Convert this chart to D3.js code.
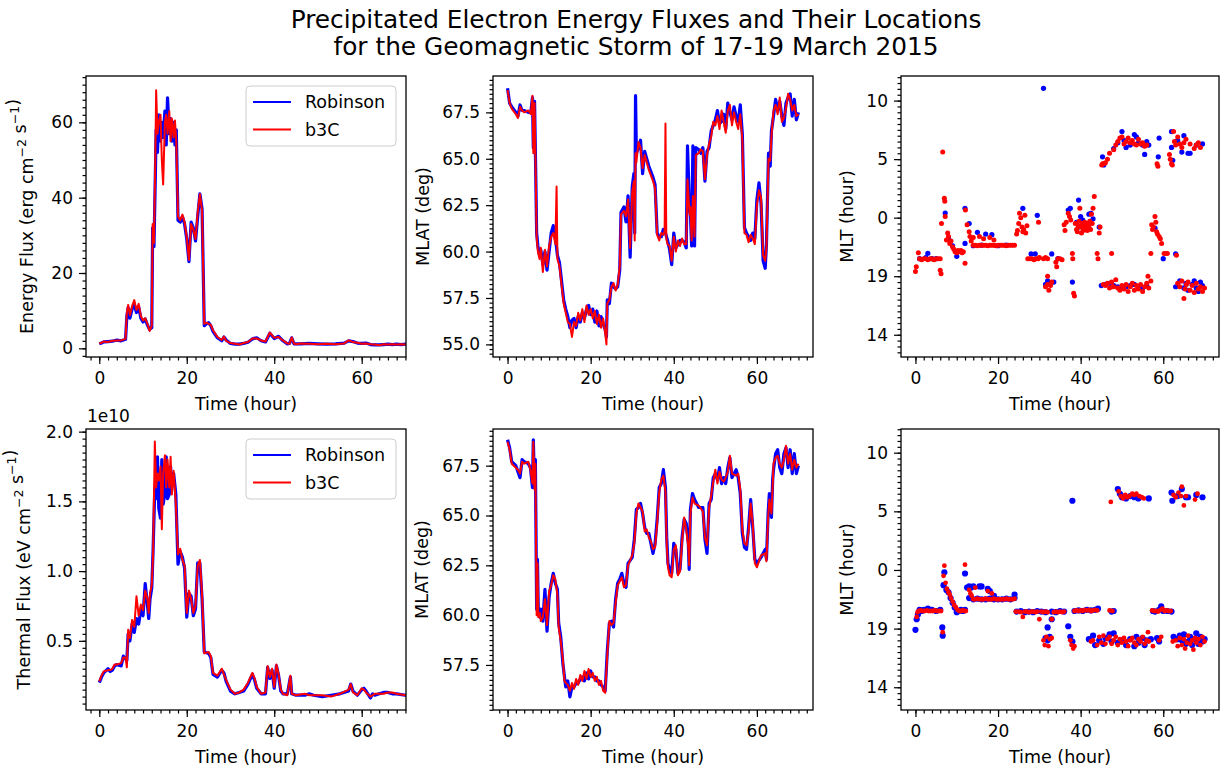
<!DOCTYPE html>
<html>
<head>
<meta charset="utf-8">
<script src="https://cdn.jsdelivr.net/npm/d3@7"></script>
<style>
  body { margin: 0; background: #fff; }
  svg text { font-family: "DejaVu Sans", sans-serif; fill: #000; }
</style>
</head>
<body>
<svg id="fig" width="1220" height="771"></svg>
<script>
// ---- data: [time (hour), value] ----

const seriesNames = ['Robinson', 'b3C'];
const seriesColors = ['#0000ff', '#ff0000'];
const timeTicks = [0, 20, 40, 60];

// energy flux, erg cm^-2 s^-1
const energyFluxRobinson = [[0,1.2],[0.5,1.4],[1,1.7],[2,1.8],[3,1.9],[4,2.2],[5,2.0],[6,2.4],[6.3,8.5],[6.6,10.8],[7,8.0],[7.5,10.5],[8,11.5],[8.5,9.5],[9,11.0],[9.5,8.0],[10,7.0],[10.5,7.8],[11,6.2],[11.5,5.0],[12,5.5],[12.2,32],[12.5,27],[12.8,45],[13,58],[13.3,52],[13.6,62],[14,55],[14.3,60],[14.6,56],[15,63],[15.3,54],[15.6,66.5],[16,57],[16.3,61],[16.6,55],[17,60],[17.3,54],[17.6,58],[18,34],[18.5,33.5],[19,35],[19.5,33],[20,29],[20.5,23],[21,33.5],[21.5,32],[22,28.5],[22.5,35],[23,41],[23.5,37],[24,6],[24.5,6.5],[25,6.8],[25.5,6],[26,4.5],[27,2.8],[28,2.0],[28.5,3.0],[29,2.2],[30,1.3],[31,1.1],[32,1.1],[33,1.3],[34,1.6],[35,2.5],[36,2.8],[37,2.0],[38,1.7],[39,4.0],[40,2.6],[41,3.2],[42,2.0],[43,1.2],[43.5,1.3],[44,2.8],[44.5,1.2],[45,1.2],[46,1.2],[48,1.3],[50,1.2],[52,1.1],[54,1.2],[56,1.4],[57,2.0],[58,1.8],[59,1.4],[60,1.3],[61,1.4],[62,1.0],[63,0.9],[64,0.9],[65,1.0],[66,1.1],[67,1.0],[68,1.1],[69,1.0],[70,1.1],[70.2,1.1]];
const energyFluxB3C = [[0,1.3],[0.5,1.5],[1,1.8],[2,1.7],[3,2.0],[4,2.1],[5,2.1],[6,2.5],[6.3,9.5],[6.6,11.5],[7,8.8],[7.5,11.2],[8,12.8],[8.5,10.2],[9,11.8],[9.5,8.6],[10,7.4],[10.5,8.0],[11,6.5],[11.5,4.6],[12,6.0],[12.2,33],[12.5,28],[12.8,50],[13,68.5],[13.3,57],[13.6,60],[14,62],[14.3,50],[14.6,43.5],[15,60],[15.3,62],[15.6,57],[16,63],[16.3,55],[16.6,61],[17,56],[17.3,60.5],[17.6,55],[18,35],[18.5,34],[19,35.5],[19.5,33.5],[20,29.5],[20.5,23.5],[21,33],[21.5,31.5],[22,29],[22.5,36],[23,41],[23.5,36.5],[24,6.5],[24.5,6.8],[25,6.5],[25.5,6.2],[26,4.8],[27,3.0],[28,2.2],[28.5,3.1],[29,2.0],[30,1.4],[31,1.2],[32,1.0],[33,1.4],[34,1.7],[35,2.6],[36,2.6],[37,2.1],[38,1.8],[39,4.2],[40,2.8],[41,3.0],[42,2.1],[43,1.3],[43.5,1.2],[44,2.9],[44.5,1.3],[45,1.1],[46,1.3],[48,1.2],[50,1.1],[52,1.2],[54,1.1],[56,1.3],[57,2.1],[58,1.7],[59,1.5],[60,1.2],[61,1.3],[62,1.1],[63,1.0],[64,0.8],[65,1.1],[66,1.0],[67,1.1],[68,1.0],[69,1.1],[70,1.0],[70.2,1.0]];

// thermal flux, in units of 1e10 eV cm^-2 s^-1
const thermalFluxRobinson = [[0,0.20],[0.5,0.24],[1,0.27],[2,0.30],[2.5,0.28],[3,0.29],[3.5,0.32],[4,0.33],[5,0.32],[5.5,0.39],[6,0.37],[6.3,0.36],[6.6,0.55],[7,0.50],[7.5,0.62],[8,0.56],[8.5,0.66],[9,0.62],[9.5,0.72],[10,0.68],[10.5,0.91],[11,0.76],[11.3,0.66],[11.6,0.80],[12,0.88],[12.3,1.15],[12.7,1.60],[13,1.52],[13.3,1.82],[13.6,1.45],[14,1.38],[14.3,1.80],[14.6,1.48],[15,1.56],[15.3,1.82],[15.6,1.52],[16,1.55],[16.3,1.75],[16.6,1.62],[17,1.70],[17.5,1.55],[18,1.05],[18.5,1.14],[19,1.10],[19.5,1.02],[20,0.67],[20.5,0.84],[21,0.82],[21.5,0.68],[22,0.73],[22.5,1.06],[23,1.06],[23.5,0.80],[24,0.42],[25,0.41],[25.5,0.38],[26,0.26],[27,0.24],[28,0.29],[28.5,0.27],[29,0.21],[30,0.14],[31,0.12],[32,0.13],[33,0.14],[34,0.19],[35,0.26],[35.5,0.22],[36,0.16],[37,0.12],[38,0.12],[38.5,0.31],[39,0.23],[39.5,0.29],[40,0.16],[40.5,0.32],[41,0.25],[41.5,0.14],[42,0.12],[43,0.12],[43.7,0.24],[44,0.12],[45,0.11],[47,0.11],[48,0.12],[49,0.11],[51,0.10],[53,0.11],[55,0.12],[57,0.14],[57.5,0.19],[58,0.14],[59,0.11],[60,0.15],[60.5,0.16],[61,0.14],[62,0.09],[62.5,0.12],[63,0.11],[64,0.12],[65,0.13],[66,0.13],[67,0.12],[68,0.12],[70,0.11],[70.2,0.11]];
const thermalFluxB3C = [[0,0.21],[0.5,0.25],[1,0.28],[2,0.29],[2.5,0.29],[3,0.30],[3.5,0.33],[4,0.33],[5,0.34],[5.5,0.38],[6,0.38],[6.3,0.31],[6.6,0.58],[7,0.52],[7.5,0.65],[8,0.60],[8.5,0.82],[9,0.68],[9.5,0.76],[10,0.72],[10.5,0.86],[11,0.80],[11.3,0.70],[11.6,0.84],[12,0.90],[12.3,1.12],[12.7,1.93],[13,1.60],[13.3,1.70],[13.6,1.65],[14,1.75],[14.3,1.30],[14.6,1.70],[15,1.83],[15.3,1.60],[15.6,1.80],[16,1.60],[16.3,1.82],[16.6,1.55],[17,1.72],[17.5,1.48],[18,1.12],[18.5,1.16],[19,1.08],[19.5,1.04],[20,0.70],[20.5,0.86],[21,0.80],[21.5,0.70],[22,0.75],[22.5,1.04],[23,1.08],[23.5,0.83],[24,0.41],[25,0.42],[25.5,0.39],[26,0.27],[27,0.25],[28,0.30],[28.5,0.26],[29,0.22],[30,0.15],[31,0.12],[32,0.13],[33,0.15],[34,0.20],[35,0.27],[35.5,0.23],[36,0.17],[37,0.12],[38,0.13],[38.5,0.32],[39,0.24],[39.5,0.30],[40,0.17],[40.5,0.33],[41,0.26],[41.5,0.15],[42,0.12],[43,0.11],[43.7,0.25],[44,0.12],[45,0.11],[47,0.12],[48,0.11],[49,0.11],[51,0.11],[53,0.10],[55,0.12],[57,0.15],[57.5,0.19],[58,0.13],[59,0.11],[60,0.16],[60.5,0.15],[61,0.13],[62,0.10],[62.5,0.11],[63,0.12],[64,0.12],[65,0.12],[66,0.13],[67,0.13],[68,0.12],[70,0.11],[70.2,0.11]];

// MLAT (deg), energy flux weighted location
const mlatTopRobinson = [[0,68.8],[0.5,68.0],[1,67.8],[2,67.5],[2.5,67.3],[3,67.9],[3.5,67.6],[4,67.6],[5,67.5],[5.6,67.5],[6,68.3],[6.2,65.6],[6.5,68.1],[6.8,64],[7,61],[7.3,60.3],[7.7,59.8],[8,60.1],[8.5,59.3],[9,60.0],[9.5,59.0],[10,60.0],[10.5,61.0],[11,61.4],[11.5,60.8],[12,59.8],[12.5,59.4],[13,58.4],[13.5,57.4],[14,56.9],[14.5,56.5],[15,55.9],[15.5,56.3],[16,56.4],[16.5,55.9],[17,56.5],[17.5,56.2],[18,56.7],[18.5,56.4],[19,56.9],[19.5,57.1],[20,56.6],[20.5,56.9],[21,56.2],[21.5,56.8],[22,56.0],[22.5,56.5],[23,56.1],[23.5,55.8],[23.8,55.4],[24,57.4],[24.5,57.2],[25,58.3],[25.5,58.1],[26,58.0],[26.5,58.1],[27,59.0],[27.3,62.1],[28,62.4],[28.5,61.6],[29,63.0],[29.5,59.7],[30,63.5],[30.4,64.2],[30.6,61.0],[30.8,68.4],[31,65.3],[31.5,65.6],[32,66.0],[32.5,64.2],[33,65.4],[34,64.6],[35,64.0],[35.5,63.6],[36,61.0],[36.5,60.8],[37,60.8],[37.5,61.2],[38,61.0],[38.5,60.6],[39,60.1],[39.5,59.3],[40,61.0],[40.5,60.2],[41,60.4],[41.5,60.6],[42,60.6],[42.5,60.5],[43,60.2],[43.3,65.7],[43.8,62.3],[44,62.0],[44.3,60.3],[44.6,65.7],[45,60.3],[45.3,65.6],[46,65.5],[46.5,65.3],[47,65.6],[47.5,63.8],[48,65.4],[48.5,65.6],[49,66.5],[49.5,66.8],[50,67.1],[50.5,67.6],[51,66.9],[51.5,67.0],[52,67.4],[52.5,66.6],[53,68.0],[53.5,67.5],[54,67.1],[54.5,67.8],[55,67.3],[55.5,67.0],[56,67.9],[56.5,66.3],[57,61.3],[57.5,61.0],[58,60.8],[58.5,60.6],[59,61.0],[59.5,60.7],[60,62.8],[60.5,63.7],[61,62.6],[61.5,59.5],[62,59.1],[62.3,60.4],[62.8,65.3],[63.2,64.6],[63.5,66.5],[64,67.3],[64.5,68.2],[65,67.6],[65.5,68.1],[66,67.3],[66.5,66.8],[67,68.0],[67.5,68.3],[68,68.5],[68.5,67.3],[69,68.2],[69.5,67.1],[70,67.5]];
const mlatTopB3C = [[0,68.7],[0.5,68.0],[1,67.7],[2,67.4],[2.5,67.2],[3,67.8],[3.5,67.6],[4,67.5],[5,67.6],[5.6,67.4],[6,68.4],[6.2,65.3],[6.5,68.0],[6.8,63.8],[7,60.8],[7.3,60.0],[7.7,59.6],[8,60.2],[8.5,58.9],[9,60.1],[9.5,59.2],[10,60.3],[10.5,60.8],[11,61.0],[11.5,60.4],[11.8,63.5],[12,59.6],[12.5,59.2],[13,58.2],[13.5,57.2],[14,56.7],[14.5,56.2],[15,56.1],[15.5,55.4],[16,56.2],[16.5,56.0],[17,56.7],[17.5,56.3],[18,56.9],[18.5,56.2],[19,57.1],[19.5,56.6],[20,56.9],[20.5,56.4],[21,56.8],[21.5,56.1],[22,56.6],[22.5,55.9],[23,56.4],[23.5,55.6],[23.8,55.0],[24,57.2],[24.5,57.4],[25,58.1],[25.5,58.3],[26,57.9],[26.5,58.2],[27,59.2],[27.3,62.0],[28,62.2],[28.5,61.9],[29,62.8],[29.5,60.2],[30,63.2],[30.4,63.8],[30.6,60.6],[30.8,65.3],[31,64.8],[31.5,65.9],[32,65.6],[32.5,64.5],[33,65.2],[34,64.4],[35,63.8],[35.5,63.4],[36,60.9],[36.5,60.6],[37,61.0],[37.5,60.9],[37.8,61.1],[38,66.9],[38.2,60.7],[38.5,60.4],[39,60.3],[39.5,59.5],[40,60.8],[40.5,60.0],[41,60.6],[41.5,60.3],[42,60.7],[42.5,60.4],[43,60.4],[43.3,63.9],[43.8,62.0],[44,62.4],[44.3,60.6],[44.6,63.0],[45,60.8],[45.3,65.2],[46,65.3],[46.5,65.5],[47,65.4],[47.5,63.9],[48,65.2],[48.5,65.8],[49,66.2],[49.5,67.0],[50,66.8],[50.5,67.3],[51,66.6],[51.5,67.6],[52,67.0],[52.5,66.4],[53,67.6],[53.5,67.9],[54,66.8],[54.5,67.5],[55,67.0],[55.5,66.6],[56,67.4],[56.5,66.0],[57,61.0],[57.5,60.9],[58,60.5],[58.5,60.9],[59,60.7],[59.5,60.4],[60,62.5],[60.5,63.3],[61,62.9],[61.5,59.8],[62,59.5],[62.3,60.2],[62.8,65.0],[63.2,64.9],[63.5,66.2],[64,67.6],[64.5,67.9],[65,67.4],[65.5,68.3],[66,67.0],[66.5,67.2],[67,67.7],[67.5,68.5],[68,68.2],[68.5,67.6],[69,67.9],[69.5,67.3],[70,67.4]];

// MLAT (deg), thermal flux weighted location
const mlatBottomRobinson = [[0,68.8],[0.5,68.4],[1,67.7],[2,67.5],[2.5,67.2],[3,66.9],[3.5,67.8],[4,67.7],[5,67.6],[5.5,67.4],[6,66.4],[6.2,68.8],[6.5,66.4],[6.7,67.8],[7,60.3],[7.2,62.8],[7.4,60.2],[7.8,59.9],[8,60.3],[8.5,59.7],[9,61.3],[9.5,59.2],[10,60.9],[10.5,61.6],[11,62.1],[11.5,61.6],[12,61.3],[12.3,59.6],[12.8,58.9],[13.3,57.6],[13.7,56.9],[14,56.4],[14.5,56.7],[15,55.9],[15.5,56.4],[16,56.4],[16.5,56.6],[17,56.6],[17.5,56.8],[18,56.9],[18.5,56.7],[19,57.1],[19.5,56.8],[20,57.2],[20.5,56.9],[21,56.9],[21.5,56.7],[22,56.7],[22.5,56.5],[23,56.4],[23.5,56.2],[24,58.2],[24.5,59.6],[25,59.7],[25.5,59.4],[26,60.8],[26.5,61.6],[27,61.8],[27.5,62.1],[28,61.6],[28.5,61.4],[29,62.6],[30,62.9],[30.5,63.8],[31,65.3],[31.5,65.4],[32,65.6],[32.5,65.1],[33,64.4],[33.5,64.1],[34,64.1],[34.5,63.6],[35,63.1],[35.5,63.6],[36,64.8],[36.5,66.4],[37,66.6],[37.5,67.3],[38,66.4],[38.3,63.9],[38.6,62.6],[39,62.3],[39.5,62.1],[40,63.6],[40.5,63.3],[41,62.1],[41.5,62.3],[42,63.9],[42.5,64.8],[43,64.6],[43.5,63.6],[43.7,62.3],[44,65.3],[44.5,66.1],[45,65.8],[46,65.4],[47,65.4],[47.5,63.8],[48,63.1],[48.5,65.6],[49,65.8],[49.5,66.9],[50,67.1],[50.5,66.8],[51,67.4],[51.5,66.6],[52,66.9],[52.5,66.6],[53,67.4],[53.5,67.9],[54,66.9],[55,67.3],[55.5,66.9],[56,66.1],[56.5,64.1],[57,63.4],[57.5,63.3],[58,64.4],[58.5,65.8],[59,64.4],[59.5,62.8],[60,62.6],[61,62.9],[62,63.3],[62.3,62.8],[62.7,65.1],[63,66.1],[63.5,64.9],[63.8,66.8],[64,67.3],[64.5,68.1],[65,68.3],[65.5,67.4],[66,67.1],[66.5,68.1],[67,68.4],[67.5,67.4],[68,68.3],[68.5,67.1],[69,68.1],[69.5,67.1],[70,67.5]];
const mlatBottomB3C = [[0,68.7],[0.5,68.3],[1,67.6],[2,67.4],[2.5,67.3],[3,67.1],[3.5,67.7],[4,67.6],[5,67.7],[5.5,67.3],[6,66.6],[6.2,68.7],[6.5,66.3],[6.7,67.6],[7,60.0],[7.2,62.6],[7.4,59.9],[7.8,60.1],[8,59.7],[8.5,59.9],[9,60.8],[9.5,59.5],[10,61.2],[10.5,61.5],[11,62.0],[11.5,61.8],[12,61.0],[12.3,59.4],[12.8,58.7],[13.3,57.8],[13.7,56.7],[14,56.6],[14.5,56.5],[15,56.2],[15.5,56.6],[16,56.3],[16.5,56.8],[17,56.5],[17.5,57.0],[18,56.7],[18.5,57.2],[19,56.8],[19.5,57.3],[20,56.9],[20.5,57.1],[21,56.7],[21.5,56.9],[22,56.5],[22.5,56.7],[23,56.2],[23.5,56.1],[24,58.0],[24.5,59.7],[25,59.5],[25.5,59.6],[26,60.6],[26.5,61.5],[27,61.7],[27.5,61.9],[28,61.4],[28.5,61.5],[29,62.5],[30,63.0],[30.5,63.6],[31,65.1],[31.5,65.6],[32,65.4],[32.5,65.2],[33,64.2],[33.5,64.3],[34,63.9],[34.5,63.7],[35,63.3],[35.5,63.4],[36,64.6],[36.5,66.2],[37,66.8],[37.5,67.0],[38,66.2],[38.3,63.6],[38.6,62.4],[39,62.0],[39.5,61.9],[40,63.3],[40.5,63.5],[41,62.0],[41.5,62.2],[42,63.7],[42.5,64.9],[43,64.3],[43.5,63.4],[43.7,62.5],[44,65.1],[44.5,65.9],[45,65.6],[46,65.5],[47,65.2],[47.5,63.9],[48,63.5],[48.5,65.4],[49,66.0],[49.5,66.7],[50,67.3],[50.5,66.6],[51,67.2],[51.5,66.8],[52,66.7],[52.5,66.9],[53,67.2],[53.5,68.0],[54,67.1],[55,67.0],[55.5,67.1],[56,66.3],[56.5,64.3],[57,63.6],[57.5,63.5],[58,64.2],[58.5,65.6],[59,64.6],[59.5,62.6],[60,62.4],[61,63.0],[62,63.1],[62.3,62.7],[62.7,64.9],[63,65.8],[63.5,65.1],[63.8,66.5],[64,67.6],[64.5,67.9],[65,68.0],[65.5,67.6],[66,67.4],[66.5,67.8],[67,68.5],[67.5,67.6],[68,68.1],[68.5,67.3],[69,67.8],[69.5,67.4],[70,67.6]];

// MLT (hour, 0-24), energy flux weighted location
const mltTopRobinson = [[1,20.5],[2.5,20.6],[3,20.95],[4,20.5],[5,20.5],[7.2,0.4],[8,22.2],[9,21.6],[10,20.7],[12,0.8],[12,21.8],[13,23.5],[15,22.75],[17,22.6],[18.5,22.55],[14,21.6],[16,21.65],[20,21.6],[22,21.65],[26,0.8],[29.5,0.2],[28,20.9],[29,20.9],[31,11.05],[31.5,18.3],[32,18.6],[33,20.9],[33.5,18.5],[34.5,20.5],[37,0.65],[37.5,0.8],[38,18.5],[39.5,1.5],[39,23.6],[39.5,23.2],[40,0.1],[40.5,23.8],[41,23.0],[41.5,23.5],[42,0.3],[42.5,0.37],[43,23.9],[44.5,23.2],[45,18.2],[45.3,5.2],[45.6,4.5],[46,18.3],[47,18.4],[48,18.2],[49,18.1],[50,18.0],[51,18.1],[52,18.2],[53,18.3],[54,18.1],[55,18.0],[56,18.2],[48,5.9],[49,6.4],[50,7.35],[50.5,6.6],[51,6.0],[52,6.2],[53,7.1],[53.5,6.9],[54,6.4],[55,6.2],[55.5,5.4],[56,6.5],[56.5,6.2],[59,6.8],[58.8,5.2],[58,23.1],[60,20.5],[62,7.35],[62,6.0],[62.3,4.9],[63,20.9],[63,18.1],[64,18.6],[65,18.0],[65.5,18.4],[66,17.8],[67,18.3],[67.5,18.6],[68,18.0],[68.5,17.7],[69,18.5],[69.5,18.2],[63.5,6.6],[64.5,5.6],[65,7.0],[66,5.5],[66.5,5.5],[68,6.2],[69.5,6.3]];
const mltTopB3C = [[0,19.4],[0.2,19.8],[0.7,21.0],[1,20.5],[1.5,20.4],[2,20.5],[2.5,20.5],[3,20.4],[3.5,20.5],[4,20.5],[4.5,20.4],[5,20.5],[5.5,20.5],[6,20.5],[6,19.5],[6.2,19.2],[6.3,23.5],[6.6,5.6],[7,1.65],[7.1,1.4],[7.2,0.1],[7.5,22.1],[7.8,22.7],[8,22.4],[8.3,21.8],[8.6,22.0],[9,21.5],[9.3,21.3],[9.6,21.1],[10,21.0],[10.3,21.2],[10.6,21.1],[11,21.2],[11.3,21.0],[11.6,21.1],[12,20.1],[12.1,0.65],[12.5,23.4],[13,22.8],[13.2,22.4],[13.5,22.0],[14,21.65],[14.5,21.65],[15,21.6],[15.5,21.65],[16,21.65],[16.5,21.65],[17,21.65],[17.5,21.6],[18,21.65],[18.5,21.65],[19,21.65],[19.5,21.6],[20,21.65],[20.5,21.65],[21,21.65],[21.5,21.65],[22,21.6],[22.5,21.65],[23,21.65],[23.5,21.65],[24,21.65],[14,22.3],[15.5,22.4],[16.5,22.2],[18,22.3],[19,22.1],[24.5,22.6],[24.7,22.9],[25,23.5],[25.2,0.37],[25.5,0.0],[25.8,23.2],[26,22.8],[26.2,23.0],[26.5,0.2],[26.7,22.7],[27,23.3],[27.2,20.5],[27.7,20.5],[28.2,20.5],[28.7,20.4],[29.2,20.5],[29.7,20.5],[30,20.6],[29.8,23.6],[31,20.5],[31.5,20.6],[32,20.5],[31.5,18.1],[32,18.3],[32.3,17.8],[32.7,18.2],[33,18.5],[32,19.0],[34,20.2],[34.2,19.8],[34.5,20.5],[35,20.5],[35.5,20.4],[36,23.4],[36.2,22.9],[36.5,23.6],[37,0.37],[37.3,0.1],[37.6,23.8],[38,20.95],[38.1,20.5],[38.3,17.55],[38.5,17.3],[38.7,23.5],[39,23.0],[39.2,22.8],[39.4,23.3],[39.6,23.7],[39.8,0.8],[40,23.2],[40.2,22.7],[40.4,23.5],[40.6,22.9],[40.8,23.3],[41,23.6],[41.2,23.1],[41.4,23.4],[41.6,22.9],[41.8,23.5],[42,23.2],[42.2,23.7],[42.4,23.0],[42.6,0.3],[42.8,23.5],[43,0.8],[43.3,1.8],[44,20.95],[44.2,20.5],[44.5,22.7],[44.7,23.2],[45.1,4.5],[45.3,4.6],[45.6,4.6],[46,4.7],[46.5,5.0],[47,5.5],[47.5,20.95],[47.7,18.1],[48,5.8],[48.5,6.2],[49,6.5],[49.5,6.8],[50,6.9],[50.5,6.3],[51,6.5],[51.5,6.8],[52,6.4],[52.5,6.6],[53,6.3],[53.5,6.2],[54,6.7],[54.5,6.3],[55,6.4],[55.5,6.1],[56,6.2],[45.5,18.3],[46,18.2],[46.5,18.4],[47,18.0],[47.5,18.5],[48,18.1],[48.5,18.7],[49,18.0],[49.5,17.8],[50,18.2],[50.5,17.9],[51,18.3],[51.5,17.7],[52,18.1],[52.5,18.4],[53,17.8],[53.5,18.2],[54,17.9],[54.5,18.3],[55,17.7],[55.5,18.1],[56,18.4],[56.5,18.0],[57,18.6],[56.3,19.0],[57,20.95],[57.2,23.4],[57.4,23.0],[57.6,23.2],[58,0.1],[58.2,23.6],[58.4,22.8],[58.6,22.6],[58.5,4.6],[58.7,4.4],[59,22.4],[59.3,22.2],[59.6,21.8],[60.2,20.95],[60.6,20.95],[61,20.95],[61.5,5.4],[61.7,5.0],[62,4.6],[62.2,4.5],[62.5,7.35],[62.7,6.5],[63,6.2],[63.2,20.8],[63.5,18.4],[64,18.1],[64.5,18.6],[65,17.1],[65.3,17.9],[65.6,18.3],[66,18.5],[66.5,17.8],[67,18.2],[67.5,17.6],[68,18.4],[68.5,17.9],[69,18.1],[69.5,17.7],[70,18.0],[63.5,6.9],[64,6.3],[64.5,6.0],[65,6.4],[65.5,6.7],[66.5,6.3],[67.5,5.9],[68,6.2],[68.5,6.4],[69,6.0]];

// MLT (hour, 0-24), thermal flux weighted location
const mltBottomRobinson = [[0,18.9],[0.3,19.8],[0.6,20.2],[1,20.6],[1.5,20.5],[2,20.6],[3,20.7],[4,20.6],[5,20.5],[6,20.6],[6.5,19.1],[6.6,18.4],[6.8,22.7],[7,23.8],[7.5,22.3],[8,22.1],[8.5,21.6],[9,21.2],[9.5,20.8],[10,20.4],[10.5,20.5],[11,20.6],[11.5,20.5],[12,20.6],[12,23.7],[12.5,22.5],[13,22.6],[13.5,22.5],[14,22.6],[15.5,22.6],[16,22.6],[17.5,22.4],[18,22.2],[19,21.8],[13,21.6],[14,21.5],[15,21.55],[16,21.5],[17,21.5],[18,21.55],[19,21.5],[20,21.5],[21,21.5],[22,21.55],[23,21.5],[24,21.6],[24,21.9],[24.5,20.45],[25.5,20.5],[26.5,20.4],[27.5,20.45],[28.5,20.4],[29.5,20.5],[30.5,20.45],[31.5,20.4],[33,20.45],[34,20.4],[35,20.5],[36,20.45],[31.5,18.2],[32,18.0],[32.5,18.3],[32,19.1],[33,19.8],[37,19.2],[37.5,18.3],[38,17.9],[38,5.9],[38.5,20.5],[39.5,20.55],[40.5,20.5],[41.5,20.6],[42.5,20.55],[43.5,20.6],[44.2,20.7],[42,18.1],[43,18.4],[43.5,17.6],[44.5,18.0],[45.5,17.7],[46,18.2],[47,18.5],[47.5,17.9],[48,18.6],[49,17.8],[50,18.0],[51,17.6],[52,18.1],[53,17.5],[53.5,18.3],[54,17.8],[55,18.2],[55.5,17.6],[56,18.0],[57,18.1],[47.5,20.45],[48,20.5],[49,6.9],[49.5,6.5],[50,6.2],[51,6.1],[52,6.3],[53,6.2],[54,6.1],[56.5,6.1],[57.5,20.5],[58,20.45],[59,20.6],[60,20.5],[61,20.5],[62,20.45],[59.5,20.9],[58.5,18.2],[59,17.9],[62,6.6],[62.2,5.9],[63.5,6.3],[64.5,6.9],[65.5,6.2],[66,6.2],[68,6.4],[69.5,6.2],[62.5,18.3],[63.5,18.1],[64,18.4],[64.5,18.0],[65,18.5],[65.5,17.7],[66,17.9],[66.5,18.3],[67,17.6],[67.5,18.1],[68,18.6],[68.5,17.7],[69,18.3],[69.5,17.9],[70,18.1]];
const mltBottomB3C = [[0.3,20.0],[0.5,20.4],[0.8,20.5],[1.2,20.55],[1.7,20.5],[2.2,20.5],[2.7,20.55],[3.2,20.5],[3.7,20.5],[4.2,20.5],[4.7,20.55],[5.2,20.5],[5.7,20.5],[6.2,20.5],[6.6,18.7],[7,0.37],[6.8,23.5],[7.3,22.9],[7.6,22.4],[8,22.1],[8.3,21.9],[8.6,21.6],[9,21.3],[9.4,21.0],[9.8,20.8],[10.2,20.6],[10.6,20.5],[11,20.5],[11.4,20.55],[11.8,20.5],[12.2,20.5],[12,0.45],[13,22.3],[13.3,22.0],[13.6,21.8],[14,21.5],[14.5,21.5],[15,21.55],[15.5,21.5],[16,21.5],[16.5,21.5],[17,21.55],[17.5,21.5],[18,21.5],[18.5,21.5],[19,21.55],[19.5,21.5],[20,21.5],[20.5,21.5],[21,21.5],[21.5,21.5],[22,21.55],[22.5,21.5],[23,21.5],[23.5,21.5],[24,21.55],[14.5,22.5],[17.5,22.2],[18.5,22.0],[24.3,20.45],[25,20.45],[25.5,20.4],[26,20.0],[26.5,20.45],[27,20.45],[27.5,20.4],[28,20.45],[28.5,20.45],[29,20.4],[29.5,20.45],[30,19.8],[30.5,20.45],[31,20.4],[31.5,20.45],[32,20.4],[33,19.8],[33.5,20.4],[34,20.45],[34.5,20.4],[35,20.45],[35.5,20.4],[36,20.45],[31,18.0],[31.3,17.6],[31.7,18.3],[32.2,17.5],[32.6,18.1],[33,18.2],[37.5,18.0],[37.8,17.6],[38.2,17.3],[38.5,17.5],[38.5,20.5],[39,20.55],[39.5,20.5],[40,20.55],[40.5,20.5],[41,20.6],[41.5,20.55],[42,20.6],[42.5,20.5],[43,20.55],[43.5,20.6],[44,20.55],[47.3,5.8],[42.5,17.9],[43,18.0],[44,17.6],[44.5,18.3],[45,17.8],[45.5,18.4],[46,17.7],[46.5,18.1],[47,18.3],[47.5,17.7],[48,18.0],[48.5,18.3],[49,17.6],[49.5,18.1],[50,17.8],[50.5,18.2],[51,17.9],[51.5,17.5],[52,18.0],[52.5,18.2],[53,17.8],[53.5,17.6],[54,18.1],[54.5,17.9],[55,18.3],[55.5,17.7],[56,18.0],[56.3,18.7],[56.5,17.9],[57.5,17.5],[47,20.55],[47.7,20.5],[49.2,6.7],[49.7,6.3],[50.3,6.1],[50.8,6.4],[51.3,6.2],[51.8,6.3],[52.5,6.5],[53,6.4],[53.5,6.5],[54.2,6.3],[54.8,6.2],[55.3,6.1],[57.3,20.55],[57.8,20.5],[58.3,20.5],[58.8,20.45],[59.3,20.6],[59.8,20.7],[60.3,20.5],[60.8,20.55],[61.3,20.5],[61.8,20.5],[59.5,18.3],[59,18.0],[62.5,6.4],[63,6.2],[63.7,6.6],[64.3,6.3],[64.5,7.1],[65,5.5],[65.5,6.3],[67.7,6.0],[68.3,6.5],[62.3,17.9],[63,18.0],[63.5,17.5],[64,18.2],[64.5,17.6],[65,18.1],[65.3,17.3],[65.7,17.8],[66,18.4],[66.5,17.7],[67,18.0],[67.3,17.2],[67.7,18.2],[68,17.8],[68.5,18.1],[69,17.6],[69.5,18.3],[70,17.9]];

// ---- layout ----
const svg = d3.select('#fig');
svg.append('rect').attr('width', 1220).attr('height', 771).attr('fill', '#fff');

const cols = [[86, 406], [493, 813], [901, 1219]];
const rows = [[76, 357], [429, 710]];
const FS = 17;

// wrap MLT so the evening sector sits below midnight
const mltToY = h => (h >= 12 ? h - 24 : h);
const mltLabel = v => String(v < 0 ? v + 24 : v);

function minorValues(domain, step) {
    const lo = Math.ceil(domain[0] / step - 1e-9), hi = Math.floor(domain[1] / step + 1e-9);
    return d3.range(lo, hi + 1).map(i => +(i * step).toFixed(4));
}

let clipId = 0;
function makePanel(opt) {
    const [x0, x1] = cols[opt.col], [y0, y1] = rows[opt.row];
    const x = d3.scaleLinear().domain(opt.xDomain).range([x0, x1]);
    const y = d3.scaleLinear().domain(opt.yDomain).range([y1, y0]);
    const g = svg.append('g');
    const id = 'clip' + (clipId++);
    g.append('clipPath').attr('id', id).append('rect')
        .attr('x', x0).attr('y', y0).attr('width', x1 - x0).attr('height', y1 - y0);
    const plot = g.append('g').attr('clip-path', `url(#${id})`);

    const styleAxis = a => {
        a.select('.domain').remove();
        a.selectAll('line').attr('stroke', '#000').attr('stroke-width', 1.2);
        a.attr('font-size', FS).attr('font-family', '"DejaVu Sans", sans-serif');
    };
    // x axis
    g.append('g').attr('transform', `translate(0,${y1})`)
        .call(d3.axisBottom(x).tickValues(minorValues(opt.xDomain, 2)).tickSize(3.5).tickFormat(''))
        .call(styleAxis);
    g.append('g').attr('transform', `translate(0,${y1})`)
        .call(d3.axisBottom(x).tickValues(timeTicks).tickSize(7).tickPadding(8).tickFormat(d3.format('d')))
        .call(styleAxis);
    // y axis
    g.append('g').attr('transform', `translate(${x0},0)`)
        .call(d3.axisLeft(y).tickValues(minorValues(opt.yDomain, opt.yMinor)).tickSize(3.5).tickFormat(''))
        .call(styleAxis);
    g.append('g').attr('transform', `translate(${x0},0)`)
        .call(d3.axisLeft(y).tickValues(opt.yTicks).tickSize(7).tickPadding(6).tickFormat(opt.yFormat))
        .call(styleAxis);

    g.append('text').attr('x', (x0 + x1) / 2).attr('y', y1 + 53)
        .attr('text-anchor', 'middle').attr('font-size', 17.5).text('Time (hour)');

    const yl = g.append('text')
        .attr('transform', `translate(${opt.ylabelX},${(y0 + y1) / 2}) rotate(-90)`)
        .attr('text-anchor', 'middle').attr('font-size', 17.5);
    opt.ylabel.forEach(part => {
        if (part.sup) {
            yl.append('tspan').attr('dy', -7).attr('font-size', 12.5).text(part.sup);
            yl.append('tspan').attr('dy', 7).text('');
        } else {
            yl.append('tspan').text(part.t);
        }
    });

    g.append('rect').attr('x', x0).attr('y', y0)
        .attr('width', x1 - x0).attr('height', y1 - y0)
        .attr('fill', 'none').attr('stroke', '#000').attr('stroke-width', 1.3);
    return {g, plot, x, y, x0, x1, y0, y1};
}

function drawLines(p, series) {
    const line = d3.line().x(d => p.x(d[0])).y(d => p.y(d[1]));
    series.forEach((s, i) => {
        p.plot.append('path').datum(s).attr('d', line)
            .attr('fill', 'none').attr('stroke', seriesColors[i])
            .attr('stroke-width', i === 0 ? 3.2 : 2).attr('stroke-linejoin', 'round');
    });
}

function drawDots(p, series, radii) {
    series.forEach((s, i) => {
        p.plot.selectAll(null).data(s).enter().append('circle')
            .attr('cx', d => p.x(d[0])).attr('cy', d => p.y(mltToY(d[1])))
            .attr('r', radii[i]).attr('fill', seriesColors[i]);
    });
}

function drawLegend(p) {
    const bx = p.x1 - 160, by = p.y0 + 10;
    const lg = p.g.append('g');
    lg.append('rect').attr('x', bx).attr('y', by).attr('width', 150).attr('height', 60)
        .attr('rx', 4).attr('fill', '#fff').attr('fill-opacity', 0.8)
        .attr('stroke', '#cccccc').attr('stroke-width', 1);
    seriesNames.forEach((name, i) => {
        const ly = by + 16 + i * 27.5;
        lg.append('line').attr('x1', bx + 7).attr('x2', bx + 45).attr('y1', ly).attr('y2', ly)
            .attr('stroke', seriesColors[i]).attr('stroke-width', 2.2);
        lg.append('text').attr('x', bx + 59).attr('y', ly).attr('dy', '0.35em')
            .attr('font-size', 17.5).text(name);
    });
}

const fluxLabelParts = unit => [{t: unit + ' cm'}, {sup: '\u22122'}, {t: ' s'}, {sup: '\u22121'}, {t: ')'}];
const mltTicks = [-10, -5, 0, 5, 10];

// top row
const p1 = makePanel({col: 0, row: 0, xDomain: [-3.04, 70.13], yDomain: [-2.3, 72.3],
    yTicks: [0, 20, 40, 60], yMinor: 2, yFormat: d3.format('d'),
    ylabelX: 33, ylabel: fluxLabelParts('Energy Flux (erg')});
drawLines(p1, [energyFluxRobinson, energyFluxB3C]);
drawLegend(p1);

const p2 = makePanel({col: 1, row: 0, xDomain: [-3.5, 73.5], yDomain: [54.32, 69.46],
    yTicks: [55, 57.5, 60, 62.5, 65, 67.5], yMinor: 0.25, yFormat: d3.format('.1f'),
    ylabelX: 429, ylabel: [{t: 'MLAT (deg)'}]});
drawLines(p2, [mlatTopRobinson, mlatTopB3C]);

const p3 = makePanel({col: 2, row: 0, xDomain: [-3.5, 73.5], yDomain: [-11.9, 12.1],
    yTicks: mltTicks, yMinor: 0.5, yFormat: mltLabel,
    ylabelX: 853, ylabel: [{t: 'MLT (hour)'}]});
drawDots(p3, [mltTopRobinson, mltTopB3C], [2.6, 2.5]);

// bottom row
const p4 = makePanel({col: 0, row: 1, xDomain: [-3.04, 70.13], yDomain: [0.004, 2.019],
    yTicks: [0.5, 1.0, 1.5, 2.0], yMinor: 0.05, yFormat: d3.format('.1f'),
    ylabelX: 30, ylabel: fluxLabelParts('Thermal Flux (eV')});
drawLines(p4, [thermalFluxRobinson, thermalFluxB3C]);
drawLegend(p4);
p4.g.append('text').attr('x', 87).attr('y', 422).attr('font-size', FS).text('1e10');

const p5 = makePanel({col: 1, row: 1, xDomain: [-3.5, 73.5], yDomain: [55.24, 69.34],
    yTicks: [57.5, 60, 62.5, 65, 67.5], yMinor: 0.25, yFormat: d3.format('.1f'),
    ylabelX: 428, ylabel: [{t: 'MLAT (deg)'}]});
drawLines(p5, [mlatBottomRobinson, mlatBottomB3C]);

const p6 = makePanel({col: 2, row: 1, xDomain: [-3.5, 73.5], yDomain: [-11.94, 12.02],
    yTicks: mltTicks, yMinor: 0.5, yFormat: mltLabel,
    ylabelX: 853, ylabel: [{t: 'MLT (hour)'}]});
drawDots(p6, [mltBottomRobinson, mltBottomB3C], [3.1, 2.4]);

// title
const title = svg.append('text').attr('text-anchor', 'middle').attr('font-size', 24.8);
title.append('tspan').attr('x', 636).attr('y', 28).text('Precipitated Electron Energy Fluxes and Their Locations');
title.append('tspan').attr('x', 636).attr('y', 55).text('for the Geomagnetic Storm of 17-19 March 2015');
</script>
</body>
</html>
